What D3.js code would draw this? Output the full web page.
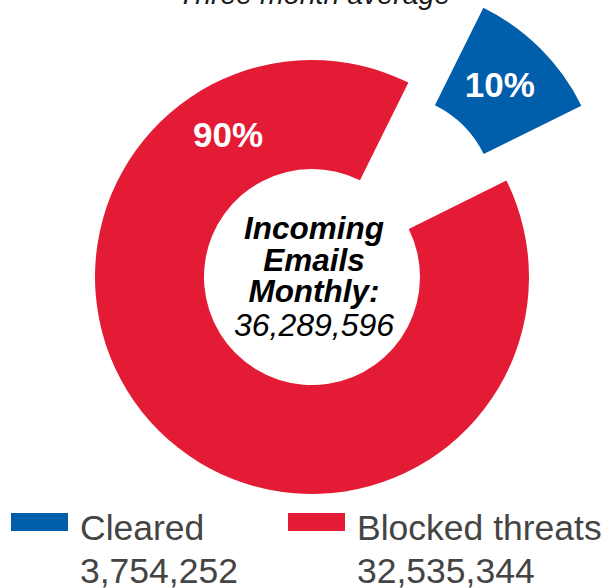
<!DOCTYPE html>
<html>
<head>
<meta charset="utf-8">
<script src="https://cdn.jsdelivr.net/npm/d3@7/dist/d3.min.js"></script>
<style>
  html, body { margin: 0; padding: 0; background: #fff; }
  svg { display: block; font-family: "Liberation Sans", Arial, Helvetica, sans-serif; }
</style>
</head>
<body>
<div id="chart"></div>
<script>
'use strict';

// data
const categories = ['Cleared', 'Blocked threats'];
const values = [3754252, 32535344];
const percentLabels = ['10%', '90%'];
const colours = ['#005eaa', '#e41b35'];
const centreLines = ['Incoming', 'Emails', 'Monthly:'];
const title = 'Three month average';

const humanNumber = v => v.toString().replace(/\B(?=(\d{3})+(?!\d))/g, ',');
const total = values.reduce((s, v) => s + v, 0);

const config = {
  width: 613,
  height: 588,
  cx: 312,
  cy: 277,
  inner: 108,
  outer: 217,
  explode: 106
};

const svg = d3.select('#chart')
  .append('svg')
  .attr('width', config.width)
  .attr('height', config.height);

// title, mostly cut off at the top
svg.append('text')
  .attr('x', 314)
  .attr('y', 4)
  .attr('text-anchor', 'middle')
  .style('font-size', '28.5px')
  .style('font-style', 'italic')
  .attr('fill', '#1a1a1a')
  .text(title);

// blue slice centred on 45 degrees
const offset = Math.PI / 4 - (values[0] / total) * Math.PI;
const pie = d3.pie()
  .sort(null)
  .value(d => d)
  .startAngle(offset)
  .endAngle(offset + 2 * Math.PI);

const arc = d3.arc()
  .innerRadius(config.inner)
  .outerRadius(config.outer);

const arcs = pie(values);

const g = svg.append('g')
  .attr('transform', `translate(${config.cx},${config.cy})`);

const shift = (d, i) => {
  if (i !== 0) return [0, 0];
  const mid = (d.startAngle + d.endAngle) / 2;
  return [Math.sin(mid) * config.explode, -Math.cos(mid) * config.explode];
};

const slices = g.selectAll('.slice')
  .data(arcs)
  .enter()
  .append('g')
  .attr('class', 'slice')
  .attr('transform', (d, i) => `translate(${shift(d, i).join(',')})`);

slices.append('path')
  .attr('d', arc)
  .attr('fill', (d, i) => colours[i]);

// percentage labels
const labelRadius = (config.inner + config.outer) / 2 + 3;
const redLabelAngle = -30.5 * Math.PI / 180;
slices.append('text')
  .attr('transform', (d, i) => {
    if (i === 0) return `translate(${arc.centroid(d)})`;
    return `translate(${Math.sin(redLabelAngle) * labelRadius},${-Math.cos(redLabelAngle) * labelRadius})`;
  })
  .attr('text-anchor', 'middle')
  .attr('dx', (d, i) => (i === 0 ? -2 : 0))
  .attr('dy', (d, i) => (i === 0 ? '0.28em' : '0.36em'))
  .attr('fill', '#fff')
  .style('font-size', '35px')
  .style('font-weight', 'bold')
  .text((d, i) => percentLabels[i]);

// centre text
const centre = g.append('text')
  .attr('text-anchor', 'middle')
  .attr('fill', '#000');
centreLines.forEach((line, i) => {
  centre.append('tspan')
    .attr('x', 2)
    .attr('y', -38 + i * 31.5)
    .style('font-size', '31.5px')
    .style('font-weight', 'bold')
    .style('font-style', 'italic')
    .text(line);
});
centre.append('tspan')
  .attr('x', 2)
  .attr('y', 59)
  .style('font-size', '32px')
  .style('font-style', 'italic')
  .text(humanNumber(total));

// legend
const legendX = [11, 288];
const legend = svg.selectAll('.legend')
  .data(categories)
  .enter()
  .append('g')
  .attr('class', 'legend')
  .attr('transform', (d, i) => `translate(${legendX[i]},513)`);

legend.append('rect')
  .attr('width', 57)
  .attr('height', 18)
  .attr('fill', (d, i) => colours[i]);

legend.append('text')
  .attr('x', 69)
  .attr('y', 27)
  .attr('fill', '#444')
  .style('font-size', '35.5px')
  .text(d => d);

legend.append('text')
  .attr('x', 69)
  .attr('y', 70)
  .attr('fill', '#444')
  .style('font-size', '35.5px')
  .text((d, i) => humanNumber(values[i]));
</script>
</body>
</html>
